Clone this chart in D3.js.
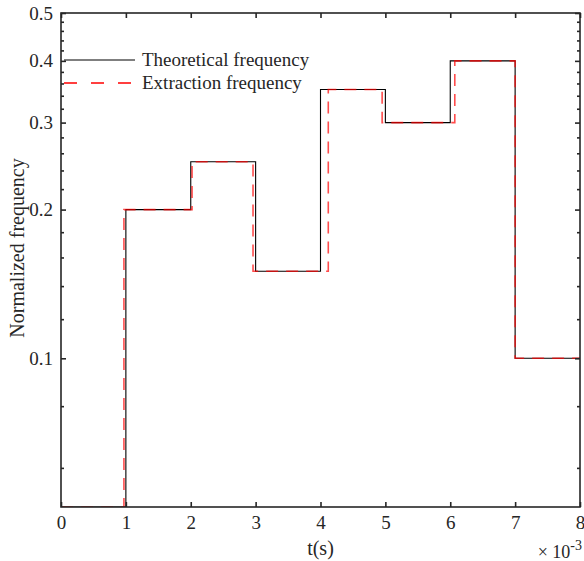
<!DOCTYPE html>
<html><head><meta charset="utf-8">
<script src="https://cdn.jsdelivr.net/npm/d3@7"></script>
<style>body{margin:0;background:#fff}svg{display:block}text{font-family:"Liberation Serif","Times New Roman",serif;fill:#262626}</style>
</head><body><svg id="c" width="584" height="561"></svg>
<script>
// data (t in units of 1e-3 s)
const theoEdges = [0, 1, 2, 3, 4, 5, 6, 7, 8];
const theoValues = [0, 0.2, 0.25, 0.15, 0.35, 0.3, 0.4, 0.1];
const extrEdges = [0, 0.97, 2.02, 2.96, 4.12, 4.95, 6.07, 7.0, 8];
const extrValues = [0, 0.2, 0.25, 0.15, 0.35, 0.3, 0.4, 0.1];
const xTicks = [0, 1, 2, 3, 4, 5, 6, 7, 8];
const yTicks = [0.1, 0.2, 0.3, 0.4, 0.5];
const yMinorTicks = [0.06, 0.08, 0.12, 0.14, 0.16, 0.18, 0.22, 0.24, 0.26, 0.28, 0.32, 0.34, 0.36, 0.38, 0.42, 0.44, 0.46, 0.48];

const svg = d3.select("#c");
const L = 61, R = 580, T = 13, B = 507;
const x = d3.scaleLinear().domain([0, 8]).range([L, R]);
const y = d3.scaleLog().domain([0.05, 0.5]).range([B, T]).clamp(true);

function stepPts(edges, vals) {
  const pts = [];
  vals.forEach((v, i) => { pts.push([edges[i], v]); pts.push([edges[i + 1], v]); });
  return pts;
}
const line = d3.line().x(d => x(d[0])).y(d => y(d[1]));

svg.append("defs").append("clipPath").attr("id", "clip")
  .append("rect").attr("x", L).attr("y", T).attr("width", R - L).attr("height", B - T);

const g = svg.append("g").attr("clip-path", "url(#clip)");
g.append("path").datum(stepPts(theoEdges, theoValues)).attr("d", line)
  .attr("fill", "none").attr("stroke", "#000").attr("stroke-width", 1.1);
g.append("path").datum(stepPts(extrEdges, extrValues)).attr("d", line)
  .attr("fill", "none").attr("stroke", "#ff0000").attr("stroke-opacity", 0.7)
  .attr("stroke-width", 1.6).attr("stroke-dasharray", "12,8");

// axes
const axCol = "#262626";
const tl = 5;
const ax = svg.append("g");
ax.append("rect").attr("x", L).attr("y", T).attr("width", R - L).attr("height", B - T)
  .attr("fill", "none").attr("stroke", axCol).attr("stroke-width", 1.6);

const xAxisB = d3.axisBottom(x).tickValues(xTicks).tickSize(-tl).tickPadding(9).tickFormat(d3.format("d"));
const xAxisT = d3.axisTop(x).tickValues(xTicks).tickSize(-tl).tickFormat("");
const yAxisL = d3.axisLeft(y).tickValues(yTicks).tickSize(-tl).tickPadding(8).tickFormat(d3.format(".1f"));
const yAxisR = d3.axisRight(y).tickValues(yTicks).tickSize(-tl).tickFormat("");
const yMinL = d3.axisLeft(y).tickValues(yMinorTicks).tickSize(-3).tickFormat("");
const yMinR = d3.axisRight(y).tickValues(yMinorTicks).tickSize(-3).tickFormat("");

function styleAxis(sel) {
  sel.select(".domain").remove();
  sel.selectAll(".tick line").attr("stroke", axCol).attr("stroke-width", 1.6);
  sel.selectAll(".tick text").attr("font-size", 19).attr("fill", axCol)
    .style("font-family", '"Liberation Serif","Times New Roman",serif');
}
ax.append("g").attr("transform", `translate(0,${B})`).call(xAxisB).call(styleAxis);
ax.append("g").attr("transform", `translate(0,${T})`).call(xAxisT).call(styleAxis);
ax.append("g").attr("transform", `translate(${L},0)`).call(yAxisL).call(styleAxis);
ax.append("g").attr("transform", `translate(${R},0)`).call(yAxisR).call(styleAxis);
ax.append("g").attr("transform", `translate(${L},0)`).call(yMinL).call(styleAxis);
ax.append("g").attr("transform", `translate(${R},0)`).call(yMinR).call(styleAxis);

// labels
svg.append("text").attr("x", (L + R) / 2).attr("y", 555).attr("text-anchor", "middle")
  .attr("font-size", 20).text("t(s)");
svg.append("text").attr("transform", `translate(24,${(T + B) / 2 - 12}) rotate(-90)`)
  .attr("text-anchor", "middle").attr("font-size", 20).text("Normalized frequency");
const ex = svg.append("text").attr("x", 582).attr("y", 558).attr("text-anchor", "end").attr("font-size", 18);
ex.append("tspan").text("\u00d7 10");
ex.append("tspan").attr("dy", -8).attr("font-size", 14).text("-3");

// legend
const lg = svg.append("g");
lg.append("line").attr("x1", 64).attr("x2", 135).attr("y1", 60).attr("y2", 60)
  .attr("stroke", "#000").attr("stroke-width", 1.1);
lg.append("text").attr("x", 142).attr("y", 66).attr("font-size", 19).text("Theoretical frequency");
lg.append("line").attr("x1", 64).attr("x2", 135).attr("y1", 83).attr("y2", 83)
  .attr("stroke", "#ff0000").attr("stroke-width", 1.3).attr("stroke-dasharray", "13,14");
lg.append("text").attr("x", 142).attr("y", 89).attr("font-size", 19).text("Extraction frequency");
</script></body></html>
